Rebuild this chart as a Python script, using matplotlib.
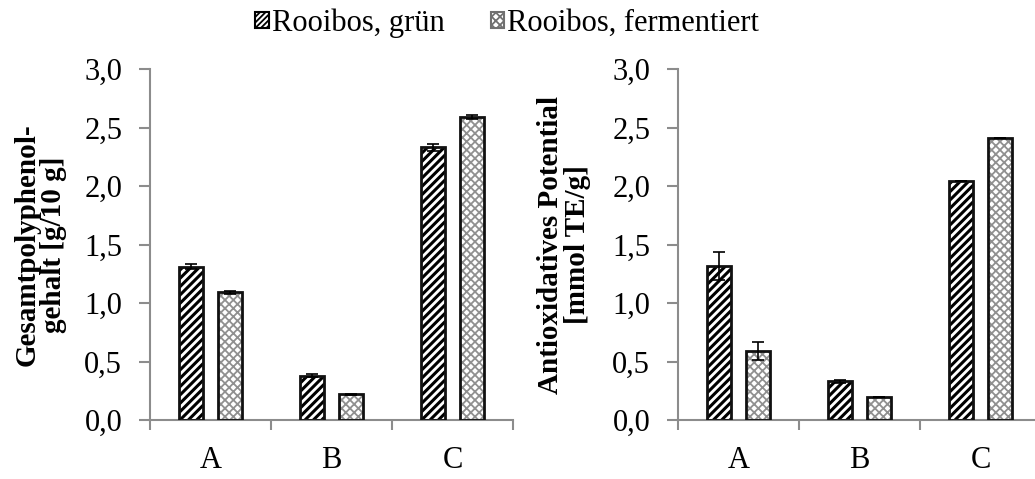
import numpy as np
import matplotlib
matplotlib.use("Agg")
import matplotlib.pyplot as plt
from matplotlib.patches import Patch
from matplotlib.ticker import FuncFormatter

plt.rcParams["font.family"] = ["Liberation Serif", "DejaVu Serif"]
plt.rcParams["hatch.linewidth"] = 2.0

CATEGORIES = ["A", "B", "C"]
SERIES = ["Rooibos, grün", "Rooibos, fermentiert"]

# Gesamtpolyphenolgehalt [g/10 g]
poly_gruen = [1.31, 0.38, 2.33]
poly_gruen_err = [0.02, 0.01, 0.03]
poly_ferm = [1.09, 0.22, 2.59]
poly_ferm_err = [0.01, 0.005, 0.02]

# Antioxidatives Potential [mmol TE/g]
anti_gruen = [1.32, 0.33, 2.04]
anti_gruen_err = [0.12, 0.01, 0.0]
anti_ferm = [0.59, 0.20, 2.41]
anti_ferm_err = [0.08, 0.0, 0.0]

YLABELS = ["Gesamtpolyphenol-\ngehalt [g/10 g]",
           "Antioxidatives Potential\n[mmol TE/g]"]

SPINE = "#8c8c8c"
W = 0.2
OFF = 0.16
FS = 22


def draw_bars(ax, x, vals, errs, hatch, hcolor, lw_hatch):
    plt.rcParams["hatch.linewidth"] = lw_hatch
    ax.bar(x, vals, W, color="white", edgecolor=hcolor, hatch=hatch,
           linewidth=0, zorder=2)
    ax.bar(x, vals, W, color="none", edgecolor="#111111", linewidth=2.0,
           zorder=3)
    ax.errorbar(x, vals, yerr=errs, fmt="none", ecolor="black",
                elinewidth=1.2, capsize=4, capthick=1.2, zorder=4)


def style_axis(ax, ylabel, label_x):
    ax.set_xlim(-0.5, 2.5)
    ax.set_ylim(0, 3.0)
    ax.set_yticks(np.arange(0, 3.01, 0.5))
    ax.yaxis.set_major_formatter(FuncFormatter(lambda v, p: f"{v:.1f}".replace(".", ",")))
    ax.set_xticks(range(3))
    ax.set_xticklabels(CATEGORIES)
    ax.set_xticks([-0.5, 0.5, 1.5, 2.5], minor=True)
    ax.tick_params(axis="x", which="major", length=0, pad=19, labelsize=FS)
    ax.tick_params(axis="x", which="minor", length=7, color=SPINE, width=1.5)
    ax.tick_params(axis="y", length=8, color=SPINE, width=1.5, pad=12,
                   labelsize=FS)
    for s in ["top", "right"]:
        ax.spines[s].set_visible(False)
    for s in ["left", "bottom"]:
        ax.spines[s].set_color(SPINE)
        ax.spines[s].set_linewidth(1.5)
    ax.set_ylabel(ylabel, fontsize=21, fontweight="bold", linespacing=1.0)
    ax.yaxis.set_label_coords(label_x, 0.5)


fig = plt.figure(figsize=(10.35, 4.79), dpi=100)
ax1 = fig.add_axes([150 / 1035, 1 - 420 / 479, 363 / 1035, 351 / 479])
ax2 = fig.add_axes([678 / 1035, 1 - 420 / 479, 363 / 1035, 351 / 479])

x = np.arange(3)
for ax, g, ge, f, fe, yl, lx in [
    (ax1, poly_gruen, poly_gruen_err, poly_ferm, poly_ferm_err, YLABELS[0], -0.228),
    (ax2, anti_gruen, anti_gruen_err, anti_ferm, anti_ferm_err, YLABELS[1], -0.24),
]:
    draw_bars(ax, x - OFF, g, ge, "////", "black", 2.2)
    draw_bars(ax, x + OFF, f, fe, "xxxx", "#909090", 1.3)
    style_axis(ax, yl, lx)

handles = [
    Patch(facecolor="white", edgecolor="black", hatch="//////", linewidth=1.5),
    Patch(facecolor="white", edgecolor="#707070", hatch="xxxx", linewidth=1.5),
]
fig.legend(handles, SERIES, loc="center", bbox_to_anchor=(0.49, 0.952),
           ncol=2, frameon=False, fontsize=22, handlelength=0.45,
           handleheight=0.45, handletextpad=0.1, columnspacing=1.5)

fig.savefig("out.png", dpi=100)
